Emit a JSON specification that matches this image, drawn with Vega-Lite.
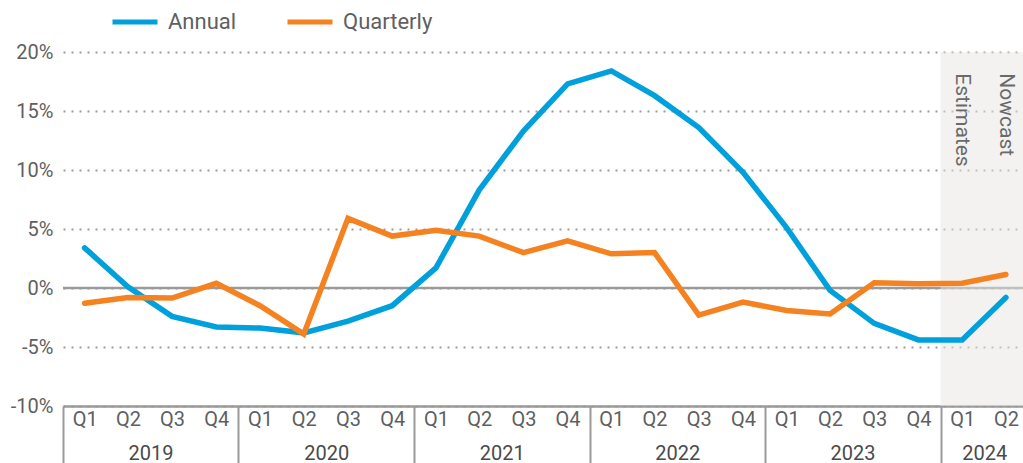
{
  "$schema": "https://vega.github.io/schema/vega-lite/v6.json",
  "width": 965,
  "height": 354,
  "autosize": "none",
  "padding": {"left": 63, "top": 52, "right": 0, "bottom": 57},
  "background": "white",
  "config": {
    "view": {"stroke": null},
    "font": "Roboto",
    "axis": {"labelFont": "Roboto", "labelColor": "#5f5f5f", "labelFontSize": 20},
    "legend": {"labelFont": "Roboto", "labelColor": "#5f5f5f"}
  },
  "datasets": {
    "series": [
      {"date": "2019-02-15", "series": "Annual", "value": 3.4},
      {"date": "2019-05-16", "series": "Annual", "value": 0.1},
      {"date": "2019-08-16", "series": "Annual", "value": -2.4},
      {"date": "2019-11-16", "series": "Annual", "value": -3.3},
      {"date": "2020-02-15", "series": "Annual", "value": -3.4},
      {"date": "2020-05-16", "series": "Annual", "value": -3.8},
      {"date": "2020-08-16", "series": "Annual", "value": -2.8},
      {"date": "2020-11-16", "series": "Annual", "value": -1.5},
      {"date": "2021-02-15", "series": "Annual", "value": 1.7},
      {"date": "2021-05-16", "series": "Annual", "value": 8.3},
      {"date": "2021-08-16", "series": "Annual", "value": 13.3},
      {"date": "2021-11-16", "series": "Annual", "value": 17.3},
      {"date": "2022-02-15", "series": "Annual", "value": 18.4},
      {"date": "2022-05-16", "series": "Annual", "value": 16.3},
      {"date": "2022-08-16", "series": "Annual", "value": 13.6},
      {"date": "2022-11-16", "series": "Annual", "value": 9.8},
      {"date": "2023-02-15", "series": "Annual", "value": 5.1},
      {"date": "2023-05-16", "series": "Annual", "value": -0.2},
      {"date": "2023-08-16", "series": "Annual", "value": -3.0},
      {"date": "2023-11-16", "series": "Annual", "value": -4.4},
      {"date": "2024-02-15", "series": "Annual", "value": -4.4},
      {"date": "2024-05-16", "series": "Annual", "value": -0.8},
      {"date": "2019-02-15", "series": "Quarterly", "value": -1.3},
      {"date": "2019-05-16", "series": "Quarterly", "value": -0.8},
      {"date": "2019-08-16", "series": "Quarterly", "value": -0.85},
      {"date": "2019-11-16", "series": "Quarterly", "value": 0.4},
      {"date": "2020-02-15", "series": "Quarterly", "value": -1.5},
      {"date": "2020-05-16", "series": "Quarterly", "value": -3.9},
      {"date": "2020-08-16", "series": "Quarterly", "value": 5.9},
      {"date": "2020-11-16", "series": "Quarterly", "value": 4.4},
      {"date": "2021-02-15", "series": "Quarterly", "value": 4.9},
      {"date": "2021-05-16", "series": "Quarterly", "value": 4.4},
      {"date": "2021-08-16", "series": "Quarterly", "value": 3.0},
      {"date": "2021-11-16", "series": "Quarterly", "value": 4.0},
      {"date": "2022-02-15", "series": "Quarterly", "value": 2.9},
      {"date": "2022-05-16", "series": "Quarterly", "value": 3.0},
      {"date": "2022-08-16", "series": "Quarterly", "value": -2.3},
      {"date": "2022-11-16", "series": "Quarterly", "value": -1.2},
      {"date": "2023-02-15", "series": "Quarterly", "value": -1.9},
      {"date": "2023-05-16", "series": "Quarterly", "value": -2.2},
      {"date": "2023-08-16", "series": "Quarterly", "value": 0.45},
      {"date": "2023-11-16", "series": "Quarterly", "value": 0.35},
      {"date": "2024-02-15", "series": "Quarterly", "value": 0.4},
      {"date": "2024-05-16", "series": "Quarterly", "value": 1.15}
    ],
    "shade": [{"start": "2024-01-01", "end": "2024-07-01"}],
    "notes": [
      {"date": "2024-02-15", "label": "Estimates"},
      {"date": "2024-05-16", "label": "Nowcast"}
    ],
    "years": [
      {"date": "2019-07-02", "year": "2019"},
      {"date": "2020-07-02", "year": "2020"},
      {"date": "2021-07-02", "year": "2021"},
      {"date": "2022-07-02", "year": "2022"},
      {"date": "2023-07-02", "year": "2023"},
      {"date": "2024-04-01", "year": "2024"}
    ]
  },
  "resolve": {"axis": {"x": "independent"}},
  "layer": [
    {
      "data": {"name": "shade"},
      "mark": {"type": "rule", "color": "#9a9a9a", "strokeWidth": 2.5},
      "encoding": {
        "y": {"datum": 0, "type": "quantitative"}
      }
    },
    {
      "data": {"name": "shade"},
      "mark": {"type": "rect", "fill": "#e8e5e1", "opacity": 0.5},
      "encoding": {
        "x": {
          "field": "start", "type": "temporal",
          "scale": {"type": "utc", "domain": [{"year": 2019, "month": 1, "date": 1, "utc": true}, {"year": 2024, "month": 7, "date": 1, "utc": true}]},
          "axis": {
            "orient": "bottom",
            "values": [
              {"year": 2019, "month": 1, "date": 1, "utc": true},
              {"year": 2020, "month": 1, "date": 1, "utc": true},
              {"year": 2021, "month": 1, "date": 1, "utc": true},
              {"year": 2022, "month": 1, "date": 1, "utc": true},
              {"year": 2023, "month": 1, "date": 1, "utc": true},
              {"year": 2024, "month": 1, "date": 1, "utc": true}
            ],
            "labels": false, "ticks": true, "tickSize": 58, "tickColor": "#9a9a9a", "tickWidth": 2,
            "domain": true, "domainColor": "#9a9a9a", "domainWidth": 2.5, "grid": false, "title": null
          }
        },
        "x2": {"field": "end"}
      }
    },
    {
      "data": {"name": "series"},
      "mark": {"type": "line", "strokeWidth": 5.5, "strokeCap": "round"},
      "encoding": {
        "x": {
          "field": "date", "type": "temporal",
          "axis": {
            "orient": "bottom",
            "values": [
              {"year": 2019, "month": 2, "date": 15, "utc": true},
              {"year": 2019, "month": 5, "date": 16, "utc": true},
              {"year": 2019, "month": 8, "date": 16, "utc": true},
              {"year": 2019, "month": 11, "date": 16, "utc": true},
              {"year": 2020, "month": 2, "date": 15, "utc": true},
              {"year": 2020, "month": 5, "date": 16, "utc": true},
              {"year": 2020, "month": 8, "date": 16, "utc": true},
              {"year": 2020, "month": 11, "date": 16, "utc": true},
              {"year": 2021, "month": 2, "date": 15, "utc": true},
              {"year": 2021, "month": 5, "date": 16, "utc": true},
              {"year": 2021, "month": 8, "date": 16, "utc": true},
              {"year": 2021, "month": 11, "date": 16, "utc": true},
              {"year": 2022, "month": 2, "date": 15, "utc": true},
              {"year": 2022, "month": 5, "date": 16, "utc": true},
              {"year": 2022, "month": 8, "date": 16, "utc": true},
              {"year": 2022, "month": 11, "date": 16, "utc": true},
              {"year": 2023, "month": 2, "date": 15, "utc": true},
              {"year": 2023, "month": 5, "date": 16, "utc": true},
              {"year": 2023, "month": 8, "date": 16, "utc": true},
              {"year": 2023, "month": 11, "date": 16, "utc": true},
              {"year": 2024, "month": 2, "date": 15, "utc": true},
              {"year": 2024, "month": 5, "date": 16, "utc": true}
            ],
            "labelExpr": "'Q' + utcquarter(datum.value)",
            "ticks": false, "domain": false, "grid": false, "labelPadding": 3,
            "labelFlush": false, "labelOverlap": false, "title": null
          }
        },
        "y": {
          "field": "value", "type": "quantitative",
          "scale": {"domain": [-10, 20], "nice": false, "zero": false},
          "axis": {
            "values": [-10, -5, 0, 5, 10, 15, 20],
            "labelExpr": "datum.value + '%'",
            "grid": true, "gridDash": [2, 6], "gridColor": "#9a9a9a", "gridWidth": 2,
            "domain": false, "ticks": false, "labelPadding": 10, "title": null
          }
        },
        "color": {
          "field": "series", "type": "nominal",
          "scale": {"domain": ["Annual", "Quarterly"], "range": ["#00a0dc", "#f58220"]},
          "legend": {
            "title": null, "orient": "none", "direction": "horizontal",
            "legendX": 47, "legendY": -55,
            "symbolType": "stroke", "symbolSize": 2025, "symbolStrokeWidth": 5,
            "labelFontSize": 22, "labelOffset": 8, "columnPadding": 40
          }
        }
      }
    },
    {
      "data": {"name": "notes"},
      "mark": {"type": "text", "angle": 90, "align": "left", "baseline": "middle", "fontSize": 21, "color": "#6a6a6a", "font": "Roboto"},
      "encoding": {
        "x": {"field": "date", "type": "temporal", "axis": null},
        "y": {"datum": 18.2, "type": "quantitative"},
        "text": {"field": "label"}
      }
    },
    {
      "data": {"name": "years"},
      "mark": {"type": "text", "opacity": 0},
      "encoding": {
        "x": {
          "field": "date", "type": "temporal",
          "axis": {
            "orient": "bottom",
            "values": [
              {"year": 2019, "month": 7, "date": 2, "utc": true},
              {"year": 2020, "month": 7, "date": 2, "utc": true},
              {"year": 2021, "month": 7, "date": 2, "utc": true},
              {"year": 2022, "month": 7, "date": 2, "utc": true},
              {"year": 2023, "month": 7, "date": 2, "utc": true},
              {"year": 2024, "month": 4, "date": 1, "utc": true}
            ],
            "labelExpr": "utcFormat(datum.value, '%Y')",
            "ticks": false, "domain": false, "grid": false, "labelPadding": 37,
            "labelFlush": false, "labelOverlap": false, "labelColor": "#4a4a4a", "title": null
          }
        },
        "text": {"field": "year"}
      }
    }
  ]
}
